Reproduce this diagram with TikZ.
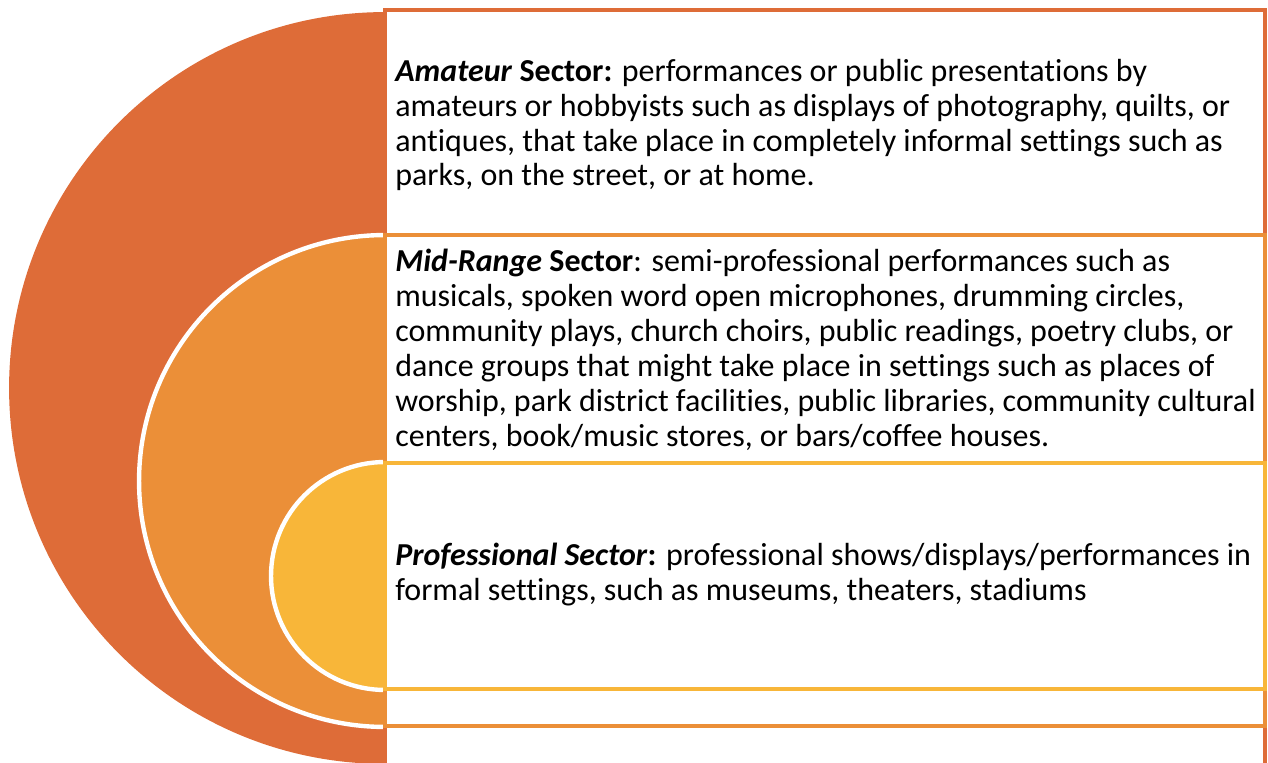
\documentclass[tikz,border=0pt]{standalone}
\usepackage{fontspec}
\setmainfont[Ligatures={NoCommon}]{Carlito}
\usepackage{xcolor}
\usepackage{tikz}
\definecolor{outerc}{RGB}{222,108,56}
\definecolor{midc}{RGB}{235,143,56}
\definecolor{innerc}{RGB}{248,182,57}

\begin{document}
\begin{tikzpicture}[x=0.02cm,y=-0.02cm,inner sep=0pt,
  sector/.style={anchor=base west,align=left,font=\fontsize{18.2}{19.9}\selectfont},
  box/.style={fill=white,line width=2.3pt}]
\useasboundingbox (0,0) rectangle (1268,763);

\begin{scope}
\clip (0,0) rectangle (385,763);
\fill[outerc] (385,388) circle [radius=7.52cm];
\filldraw[fill=midc,draw=white,line width=2.5pt] (385,481) circle [radius=4.92cm];
\filldraw[fill=innerc,draw=white,line width=2.5pt] (385,576) circle [radius=2.28cm];
\end{scope}

\draw[box,draw=outerc] (385,10) rectangle (1265,766);
\draw[box,draw=midc] (385,235) rectangle (1265,726);
\draw[box,draw=innerc] (385,463) rectangle (1265,689);

\node[sector] (A) at (395,186) {\textbf{\textit{Amateur} Sector:} performances or public presentations by\\
amateurs or hobbyists such as displays of photography, quilts, or\\
antiques, that take place in completely informal settings such as\\
parks, on the street, or at home.};
\node[sector] (B) at (395,446) {\textbf{\textit{Mid-Range} Sector}: semi-professional performances such as\\
musicals, spoken word open microphones, drumming circles,\\
community plays, church choirs, public readings, poetry clubs, or\\
dance groups that might take place in settings such as places of\\
worship, park district facilities, public libraries, community cultural\\
centers, book/music stores, or bars/coffee houses.};
\node[sector] (C) at (395,600) {\textbf{\textit{Professional Sector}:} professional shows/displays/performances in\\
formal settings, such as museums, theaters, stadiums};

\end{tikzpicture}
\end{document}
